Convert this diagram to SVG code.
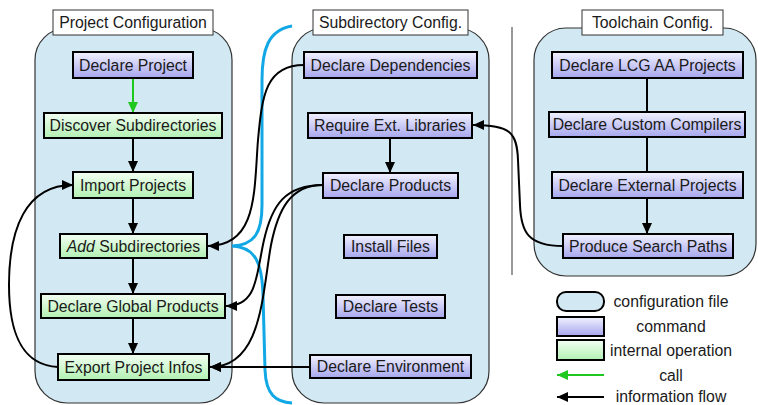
<svg xmlns="http://www.w3.org/2000/svg" width="758" height="405" viewBox="0 0 758 405">
<style>
text{font-family:"Liberation Sans",Arial,sans-serif;font-size:15.8px;fill:#1a1a1a;text-anchor:middle}
.panel{fill:#d2e9f3;stroke:#333;stroke-width:1.2}
.title{fill:#fff;stroke:#333;stroke-width:1}
.cmd{fill:url(#gPurple);stroke:#000;stroke-width:2}
.op{fill:url(#gGreen);stroke:#000;stroke-width:2}
.flow{fill:none;stroke:#000;stroke-width:2}
.call{fill:none;stroke:#1ec81e;stroke-width:2}
.brace{fill:none;stroke:#12a8e6;stroke-width:3}
.sep{stroke:#9a9a9a;stroke-width:2}
</style>
<defs>
<linearGradient id="gPurple" x1="0" y1="0" x2="0" y2="1">
<stop offset="0" stop-color="#f2f2ff"/>
<stop offset="1" stop-color="#a6a6ee"/>
</linearGradient>
<linearGradient id="gGreen" x1="0" y1="0" x2="0" y2="1">
<stop offset="0" stop-color="#f4fff4"/>
<stop offset="1" stop-color="#b2f0b2"/>
</linearGradient>
<marker id="ah" markerUnits="userSpaceOnUse" markerWidth="12" markerHeight="10" refX="11" refY="5" orient="auto">
<path d="M0,0 L11,5 L0,10 z" fill="#000"/>
</marker>
<marker id="ahg" markerUnits="userSpaceOnUse" markerWidth="12" markerHeight="10" refX="11" refY="5" orient="auto">
<path d="M0,0 L11,5 L0,10 z" fill="#1ec81e"/>
</marker>
</defs>

<g id="panels">
<rect class="panel" x="35" y="28" width="197" height="375" rx="32"/>
<rect class="panel" x="292" y="28" width="197" height="375" rx="32"/>
<rect class="panel" x="534" y="28" width="222" height="248" rx="32"/>
<line class="sep" x1="512" y1="27" x2="512" y2="275"/>
</g>

<g id="titles">
<g id="title-project"><rect class="title" x="53" y="10" width="160" height="25"/><text x="133" y="28">Project Configuration</text></g>
<g id="title-subdir"><rect class="title" x="313" y="10" width="155" height="25"/><text x="390.5" y="28">Subdirectory Config.</text></g>
<g id="title-toolchain"><rect class="title" x="582" y="10" width="141" height="25"/><text x="652.5" y="28">Toolchain Config.</text></g>
</g>

<g id="connectors">
<path class="call" d="M133,78 L133,113" marker-end="url(#ahg)"/>
<path class="flow" d="M133,138 L133,172" marker-end="url(#ah)"/>
<path class="flow" d="M133,198 L133,234" marker-end="url(#ah)"/>
<path class="flow" d="M133,258 L133,294" marker-end="url(#ah)"/>
<path class="flow" d="M133,318 L133,354" marker-end="url(#ah)"/>
<path class="flow" d="M58,367 C20,365 9,330 9,285 C9,230 25,185 73,185" marker-end="url(#ah)"/>
<path class="flow" d="M390,138 L390,173" marker-end="url(#ah)"/>
<path class="flow" d="M647,78 L647,112"/>
<path class="flow" d="M647,137 L647,172"/>
<path class="flow" d="M647,198 L647,234" marker-end="url(#ah)"/>
<path class="brace" d="M292,26 C268,30 262,50 262,80 L262,205 C262,232 255,245 232,246 C255,247 262,262 263,295 L265,370 C266,395 276,402 292,403"/>
<path class="flow" d="M304,65 C266,65 262,95 258,140 C254,190 258,246 208,246" marker-end="url(#ah)"/>
<path class="flow" d="M323,185 C285,185 272,205 264,240 C256,275 258,306 226,306" marker-end="url(#ah)"/>
<path class="flow" d="M323,185 C290,185 278,210 271,245 C262,295 262,367 210,367" marker-end="url(#ah)"/>
<path class="flow" d="M310,367 L210,367" marker-end="url(#ah)"/>
<path class="flow" d="M563,246 C528,246 521,232 520,205 L518,160 C517,132 510,125 473,125" marker-end="url(#ah)"/>
</g>

<g id="n-declare-project"><rect class="cmd" x="73" y="52" width="120" height="26"/><text x="133" y="70.5">Declare Project</text></g>
<g id="n-discover-subdirs"><rect class="op" x="44" y="113" width="178" height="25"/><text x="133" y="131">Discover Subdirectories</text></g>
<g id="n-import-projects"><rect class="op" x="73" y="172" width="120" height="26"/><text x="133" y="190.5">Import Projects</text></g>
<g id="n-add-subdirs"><rect class="op" x="60" y="234" width="147" height="24"/><text x="133.5" y="251.5"><tspan font-style="italic">Add</tspan> Subdirectories</text></g>
<g id="n-global-products"><rect class="op" x="41" y="294" width="184" height="24"/><text x="133" y="311.5">Declare Global Products</text></g>
<g id="n-export-infos"><rect class="op" x="58" y="354" width="151" height="26"/><text x="133.5" y="372.5">Export Project Infos</text></g>

<g id="n-declare-deps"><rect class="cmd" x="304" y="52" width="173" height="26"/><text x="390.5" y="70.5">Declare Dependencies</text></g>
<g id="n-require-ext"><rect class="cmd" x="308" y="113" width="164" height="25"/><text x="390" y="131">Require Ext. Libraries</text></g>
<g id="n-declare-products"><rect class="cmd" x="323" y="173" width="135" height="25"/><text x="390.5" y="191">Declare Products</text></g>
<g id="n-install-files"><rect class="cmd" x="344" y="235" width="93" height="23"/><text x="390.5" y="252">Install Files</text></g>
<g id="n-declare-tests"><rect class="cmd" x="336" y="295" width="109" height="23"/><text x="390.5" y="312">Declare Tests</text></g>
<g id="n-declare-env"><rect class="cmd" x="310" y="355" width="161" height="23"/><text x="390.5" y="372">Declare Environment</text></g>

<g id="n-lcg-aa"><rect class="cmd" x="552" y="52" width="191" height="26"/><text x="647.5" y="70.5">Declare LCG AA Projects</text></g>
<g id="n-custom-compilers"><rect class="cmd" x="549" y="112" width="196" height="25"/><text x="647" y="130">Declare Custom Compilers</text></g>
<g id="n-external-projects"><rect class="cmd" x="552" y="172" width="191" height="26"/><text x="647.5" y="190.5">Declare External Projects</text></g>
<g id="n-search-paths"><rect class="cmd" x="563" y="234" width="170" height="24"/><text x="648" y="251.5">Produce Search Paths</text></g>

<g id="legend">
<rect x="557" y="292" width="47" height="19" rx="9" fill="#d2e9f3" stroke="#000" stroke-width="2"/>
<text x="671" y="306.5">configuration file</text>
<rect class="cmd" x="557" y="317" width="47" height="19"/>
<text x="671" y="332">command</text>
<rect class="op" x="557" y="340" width="47" height="20"/>
<text x="671" y="355.5">internal operation</text>
<path class="call" d="M604,375 L557,375" marker-end="url(#ahg)"/>
<text x="671" y="380.5">call</text>
<path class="flow" d="M604,397 L557,397" marker-end="url(#ah)"/>
<text x="671" y="402">information flow</text>
</g>
</svg>
